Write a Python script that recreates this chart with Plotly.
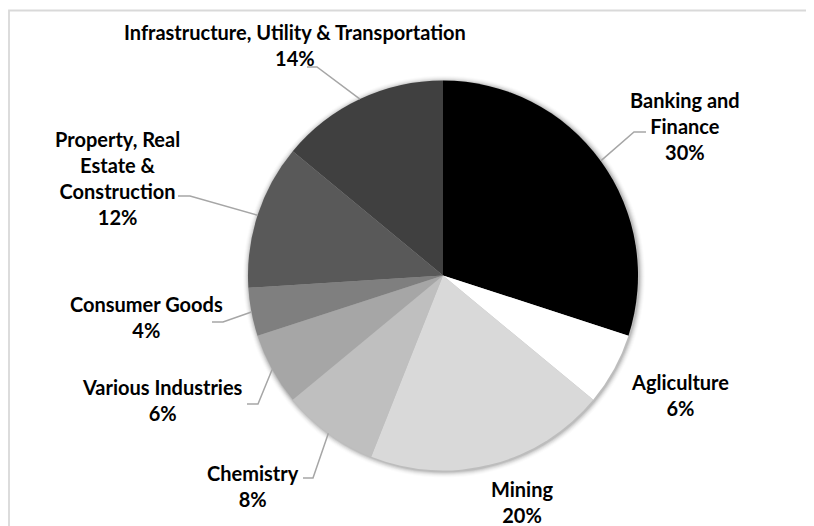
import math
import plotly.graph_objects as go

# ---- data ----
sectors = ["Banking and Finance", "Agliculture", "Mining", "Chemistry",
           "Various Industries", "Consumer Goods",
           "Property, Real Estate & Construction",
           "Infrastructure, Utility & Transportation"]
shares = [30, 6, 20, 8, 6, 4, 12, 14]
label_text = ["Banking and<br>Finance", "Agliculture", "Mining", "Chemistry",
              "Various Industries", "Consumer Goods",
              "Property, Real<br>Estate &<br>Construction",
              "Infrastructure, Utility & Transportation"]
colors = ["#000000", "#ffffff", "#d9d9d9", "#bfbfbf",
          "#a6a6a6", "#7f7f7f", "#595959", "#404040"]

# ---- layout constants (window pixels) ----
OFF = 8                      # page body margin
W, H = 814 - OFF, 526 - OFF  # figure size
CX, CY, R = 443, 275.5, 195
FONT = "Lato, 'Open Sans', sans-serif"

# label block centre and leader route (text end, elbow); None = no leader
label_layout = [
    ((685, 126.5), ((646, 132), (634, 132))),
    ((680, 394.5), None),
    ((522, 502), None),
    ((253, 485.5), ((303, 478), (313, 478))),
    ((162, 400), ((247, 404), (258, 404))),
    ((146, 317), ((212, 322), (223, 322))),
    ((117, 178), ((178, 196), (190, 196))),
    ((295, 44.5), ((307, 67), (317, 67))),
]


def px(x):
    return (x - OFF) / W


def py(y):
    return 1 - (y - OFF) / H


fig = go.Figure(go.Pie(
    labels=sectors, values=shares, sort=False, direction="clockwise",
    rotation=0, textinfo="none", hoverinfo="label+percent",
    marker=dict(colors=colors, line=dict(width=0)),
    domain=dict(x=[px(CX - R), px(CX + R)], y=[py(CY + R), py(CY - R)]),
    showlegend=False,
))

shapes = []
# soft shadow around pie
for k, op in [(6, 0.015), (5, 0.025), (4, 0.035), (3, 0.05), (2, 0.07), (1, 0.09)]:
    shapes.append(dict(type="circle", xref="paper", yref="paper", layer="below",
                       x0=px(CX - R - k + 1), x1=px(CX + R + k + 1),
                       y0=py(CY + R + k + 1), y1=py(CY - R - k + 1),
                       fillcolor=f"rgba(0,0,0,{op})", line=dict(width=0)))
# chart border
shapes.append(dict(type="rect", xref="paper", yref="paper",
                   x0=px(9), x1=px(840), y0=py(560), y1=py(10.5),
                   line=dict(color="#d9d9d9", width=1.8)))

annotations = []
total = sum(shares)
cum = 0
for name, val, txt, (pos, leader) in zip(sectors, shares, label_text, label_layout):
    mid = (cum + val / 2) / total * 2 * math.pi
    cum += val
    ex = CX + R * math.sin(mid)
    ey = CY - R * math.cos(mid)
    pct = round(val / total * 100)
    annotations.append(dict(
        x=px(pos[0]), y=py(pos[1]), xref="paper", yref="paper",
        text=f"<b>{txt}<br>{pct}%</b>", showarrow=False,
        xanchor="center", yanchor="middle", align="center",
        font=dict(family=FONT, size=20, color="#000000"),
    ))
    if leader:
        (tx, ty), (bx, by) = leader
        path = (f"M {px(tx)} {py(ty)} L {px(bx)} {py(by)} "
                f"L {px(ex)} {py(ey)}")
        shapes.append(dict(type="path", xref="paper", yref="paper", path=path,
                           line=dict(color="#a6a6a6", width=1.5)))

fig.update_layout(
    width=W, height=H, margin=dict(l=0, r=0, t=0, b=0),
    paper_bgcolor="#ffffff", plot_bgcolor="#ffffff",
    shapes=shapes, annotations=annotations,
)

fig.write_html("out.html")
